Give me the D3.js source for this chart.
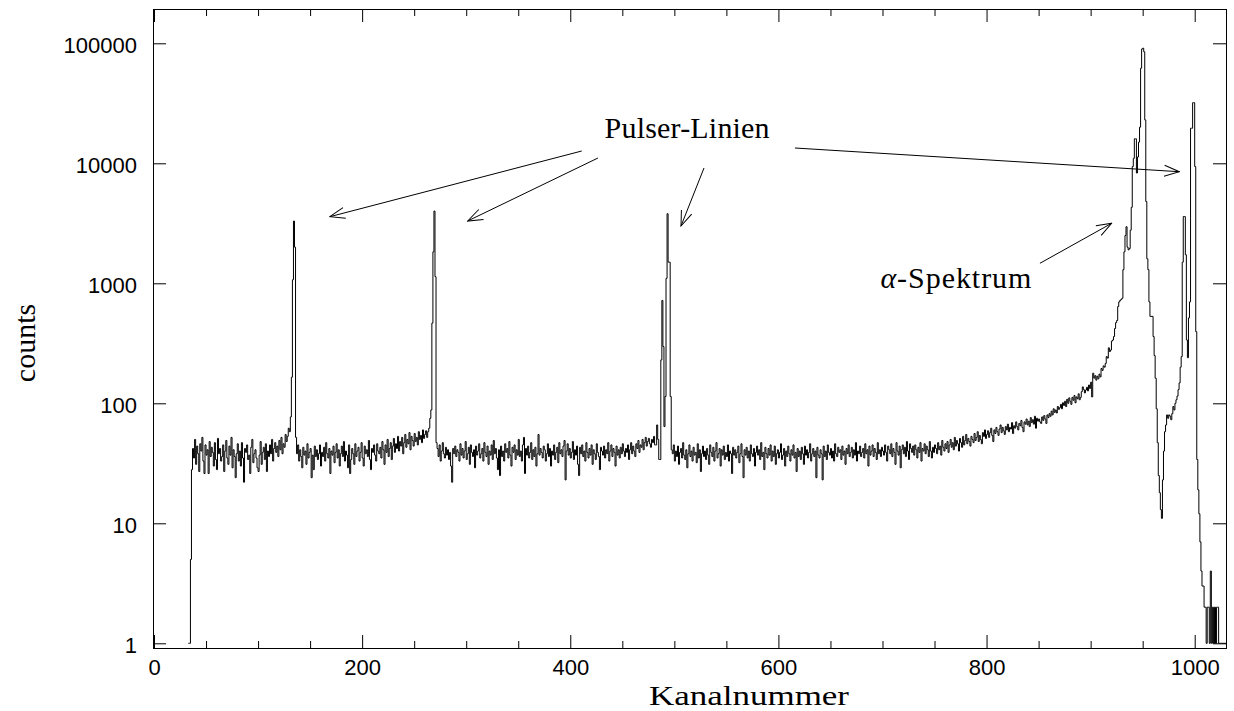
<!DOCTYPE html>
<html>
<head>
<meta charset="utf-8">
<script src="https://cdn.jsdelivr.net/npm/d3@7"></script>
<style>
  body { margin: 0; background: #fff; }
  .tick text { font-family: "Liberation Sans", Arial, sans-serif; font-size: 22px; fill: #000; }
  .label { font-family: "Liberation Serif", "Times New Roman", serif; fill: #000; }
</style>
</head>
<body>
<div id="chart"></div>
<script>
var width = 1234
var height = 711

// counts per channel, first entry is channel 30 (10 channels per row)
var firstChannel = 30
var counts = [
  0,0,0,1,1,5,28,42,35,50,
  31,44,38,27,46,40,52,33,26,45,
  37,41,26,48,36,43,39,30,47,34,
  28,51,38,42,33,36,45,27,40,49,
  35,31,44,37,52,29,41,36,24,38,
  46,33,40,30,47,35,22,42,39,45,
  34,37,26,43,50,32,38,41,35,29,
  27,37,48,31,39,43,34,46,27,40,
  36,45,38,50,33,42,47,39,44,36,
  49,41,52,38,46,43,55,48,53,62,
  58,77,165,1070,3300,2000,52,38,45,33,
  41,36,29,43,37,40,31,46,35,39,
  42,24,37,28,44,36,41,34,38,45,
  30,39,36,43,33,47,38,35,42,26,
  40,37,44,32,39,46,35,41,30,38,
  44,36,48,33,40,37,29,45,26,34,
  42,38,31,46,36,40,43,33,39,47,
  35,30,44,38,41,36,49,34,28,42,
  39,45,37,33,46,40,38,43,35,48,
  41,31,45,39,50,36,42,47,34,44,
  51,39,46,42,53,40,48,44,52,38,
  47,55,43,50,46,57,41,53,49,44,
  56,48,52,45,58,50,54,47,60,51,
  55,59,52,58,62,75,88,466,1830,4000,
  1135,47,42,36,45,33,40,47,38,35,
  43,37,41,34,39,30,22,42,38,44,
  36,41,39,33,46,37,42,35,40,48,
  34,38,43,31,45,39,36,41,29,44,
  37,40,46,35,38,42,33,47,39,36,
  44,31,40,37,45,34,49,38,42,35,
  28,41,25,44,36,40,33,46,39,42,
  35,48,37,30,43,39,45,34,41,37,
  50,36,40,33,45,52,26,42,37,44,
  35,39,47,34,41,36,43,30,38,55,
  37,42,39,35,44,41,33,38,46,36,
  42,30,40,37,45,34,39,43,32,47,
  38,41,36,44,49,23,40,46,37,42,
  35,39,48,34,41,37,44,31,25,43,
  38,45,36,40,33,47,39,35,42,37,
  45,31,41,38,34,46,39,36,28,43,
  40,37,44,35,41,38,47,33,40,45,
  36,42,39,30,44,37,41,35,43,38,
  46,40,36,42,39,45,34,41,47,38,
  44,40,36,46,42,49,39,45,43,50,
  41,47,52,44,48,51,46,43,50,47,
  53,45,45,66,50,34,34,230,720,297,
  64,114,1100,3800,1500,1500,114,41,38,45,
  33,40,36,44,31,39,42,35,47,37,
  34,41,29,38,45,36,40,33,43,37,
  39,32,46,35,41,27,38,44,36,40,
  34,42,37,31,45,39,36,43,33,40,
  47,35,38,42,30,41,37,44,34,39,
  36,45,33,40,38,26,43,37,41,35,
  39,44,32,38,46,36,24,41,37,43,
  35,40,33,45,38,36,42,30,39,44,
  37,41,34,47,36,39,28,43,38,35,
  42,37,45,33,40,36,44,31,38,41,
  35,39,46,34,37,42,30,40,36,44,
  38,33,41,37,45,35,39,27,42,36,
  40,34,43,38,31,44,37,41,35,39,
  46,33,38,42,36,40,24,43,37,35,
  41,38,23,44,36,40,34,45,39,37,
  42,35,40,33,46,38,36,43,39,41,
  34,44,37,40,31,42,38,45,36,39,
  43,35,41,37,47,33,40,38,44,36,
  39,42,35,46,38,41,30,44,37,40,
  45,36,42,39,34,47,38,41,36,43,
  40,37,45,39,33,44,41,38,46,36,
  42,39,31,47,40,37,44,29,41,45,
  38,43,36,48,40,34,46,42,39,44,
  37,45,41,35,43,39,47,33,42,40,
  46,38,44,41,36,48,40,35,43,39,
  45,42,38,47,41,44,37,49,43,40,
  46,42,48,39,45,50,43,47,41,52,
  44,49,46,40,51,47,43,53,45,49,
  55,46,51,48,44,53,50,47,56,49,
  52,58,48,54,50,46,57,53,60,51,
  55,59,52,57,62,54,48,60,56,63,
  58,54,61,66,57,63,59,55,64,60,
  67,58,63,61,69,56,65,62,70,64,
  60,68,65,72,63,58,70,67,74,66,
  71,64,76,69,73,67,78,62,75,71,
  74,70,68,77,72,79,74,68,80,76,
  82,78,86,80,90,84,88,83,94,89,
  92,98,90,101,96,104,94,108,100,111,
  104,98,112,106,116,101,113,109,120,107,
  112,125,137,130,122,129,136,127,142,133,
  150,113,178,162,170,156,168,160,175,166,
  195,188,205,200,215,245,238,290,270,278,
  330,337,360,420,470,490,640,700,720,735,
  750,1300,1830,2500,2960,2000,1900,1950,2770,4300,
  9400,11000,16000,16000,8300,11300,15000,20000,62000,89700,
  91000,85000,23000,4800,1600,1300,700,530,530,530,
  360,250,162,90,47,25,18,13,11,23,
  40,58,66,80,75,80,78,73,82,94,
  88,100,107,115,130,148,200,245,1500,3600,
  3600,1730,337,240,515,700,19600,19600,32000,32000,
  9400,395,34,19,12,7,4,3,3,2,
  2,1,2,2,1,4,1,2,1,2,
  1,2,2,1,1,1,1,1,1,1
]

var xTicks = [0, 200, 400, 600, 800, 1000]
var xMinorTicks = [50, 100, 150, 250, 300, 350, 450, 500, 550, 650, 700, 750, 850, 900, 950]
var yTicks = [1, 10, 100, 1000, 10000, 100000]
var yTickLabels = ['1', '10', '100', '1000', '10000', '100000']

var xLabel = 'Kanalnummer'
var yLabel = 'counts'

// annotation text and arrows, in data units (channel, counts)
var pulserText = { text: 'Pulser-Linien', ch: 433, count: 16250 }
var alphaText = { ch: 698, count: 914 }
var pulserArrows = [
  { from: [411, 12660], to: [169, 3590] },
  { from: [426.6, 11070], to: [301.4, 3305] },
  { from: [528.5, 9140], to: [506.4, 3002] },
  { from: [615.9, 13410], to: [985.2, 8510] }
]
var alphaArrow = { from: [851.3, 1468], to: [920.2, 3162] }

var frame = { left: 153.5, top: 9.5, right: 1226.5, bottom: 648.5 }

var svg = d3.select('#chart')
  .append('svg')
  .attr('width', width)
  .attr('height', height)

// Add scales
var xScale = d3.scaleLinear()
  .domain([0, 1000])
  .range([154, 1194.7])

var yScale = d3.scaleLog()
  .domain([1, 100000])
  .range([643.3, 43.3])

// Arrow head
svg.append('defs')
  .append('marker')
  .attr('id', 'head')
  .attr('markerUnits', 'userSpaceOnUse')
  .attr('viewBox', '-17 -8 18 16')
  .attr('markerWidth', 18)
  .attr('markerHeight', 16)
  .attr('refX', 0)
  .attr('refY', 0)
  .attr('orient', 'auto')
  .append('path')
  .attr('d', 'M-15,-5.5L0,0L-15,5.5')
  .attr('fill', 'none')
  .attr('stroke', '#000')
  .attr('stroke-width', 1)

svg.select('defs')
  .append('clipPath')
  .attr('id', 'plot-clip')
  .append('rect')
  .attr('x', frame.left)
  .attr('y', frame.top)
  .attr('width', frame.right - frame.left)
  .attr('height', frame.bottom - frame.top)

// Render spectrum
var spectrum = counts.map(function(c, i) {
  return { ch: firstChannel + i, count: c }
})
spectrum.push({ ch: firstChannel + counts.length, count: counts[counts.length - 1] })

var line = d3.line()
  .defined(d => d.count > 0)
  .x(d => xScale(d.ch))
  .y(d => yScale(d.count))
  .curve(d3.curveStepAfter)

svg.append('path')
  .datum(spectrum)
  .attr('class', 'spectrum')
  .attr('clip-path', 'url(#plot-clip)')
  .attr('d', line)
  .attr('fill', 'none')
  .attr('stroke', '#000')
  .attr('stroke-width', 1)

// Render axes (ticks point inward)
function cleanAxis(g) {
  g.select('.domain').remove()
  g.selectAll('.tick line').attr('stroke', '#000')
}

svg.append('g')
  .attr('transform', `translate(0,${frame.bottom - 0.5})`)
  .call(d3.axisBottom(xScale).tickValues(xTicks).tickSize(-13).tickPadding(11).tickFormat(d3.format('d')))
  .call(cleanAxis)

svg.append('g')
  .attr('transform', `translate(0,${frame.bottom - 0.5})`)
  .call(d3.axisBottom(xScale).tickValues(xMinorTicks).tickSize(-7).tickFormat(''))
  .call(cleanAxis)

svg.append('g')
  .attr('transform', `translate(0,${frame.top - 0.5})`)
  .call(d3.axisTop(xScale).tickValues(xTicks).tickSize(-13).tickFormat(''))
  .call(cleanAxis)

svg.append('g')
  .attr('transform', `translate(0,${frame.top - 0.5})`)
  .call(d3.axisTop(xScale).tickValues(xMinorTicks).tickSize(-7).tickFormat(''))
  .call(cleanAxis)

svg.append('g')
  .attr('transform', `translate(${frame.left - 0.5},0)`)
  .call(d3.axisLeft(yScale).tickValues(yTicks).tickSize(-13).tickPadding(16)
    .tickFormat((d, i) => yTickLabels[i]))
  .call(cleanAxis)
  .selectAll('text')
  .attr('dy', '0.4em')

svg.append('g')
  .attr('transform', `translate(${frame.right - 0.5},0)`)
  .call(d3.axisRight(yScale).tickValues(yTicks).tickSize(-13).tickFormat(''))
  .call(cleanAxis)

// remove d3 default font settings so css applies
svg.selectAll('g').attr('font-family', null).attr('font-size', null)

// Frame
svg.append('rect')
  .attr('x', frame.left)
  .attr('y', frame.top)
  .attr('width', frame.right - frame.left)
  .attr('height', frame.bottom - frame.top)
  .attr('fill', 'none')
  .attr('stroke', '#000')
  .attr('stroke-width', 1)

// Axis labels
svg.append('text')
  .attr('class', 'label')
  .attr('x', 749)
  .attr('y', 704.5)
  .attr('text-anchor', 'middle')
  .style('font-size', '27px')
  .attr('textLength', 200)
  .attr('lengthAdjust', 'spacingAndGlyphs')
  .text(xLabel)

svg.append('text')
  .attr('class', 'label')
  .attr('transform', 'translate(35,343) rotate(-90)')
  .attr('text-anchor', 'middle')
  .style('font-size', '30px')
  .text(yLabel)

// Annotations
svg.append('text')
  .attr('class', 'label')
  .attr('x', xScale(pulserText.ch))
  .attr('y', yScale(pulserText.count))
  .style('font-size', '30px')
  .attr('textLength', 165)
  .text(pulserText.text)

var alpha = svg.append('text')
  .attr('class', 'label')
  .attr('x', xScale(alphaText.ch))
  .attr('y', yScale(alphaText.count))
  .style('font-size', '30px')
  .attr('textLength', 151)

alpha.append('tspan')
  .style('font-style', 'italic')
  .text('α')
alpha.append('tspan')
  .text('-Spektrum')

svg.selectAll('.arrow')
  .data(pulserArrows.concat([alphaArrow]))
  .enter()
  .append('line')
  .attr('class', 'arrow')
  .attr('x1', d => xScale(d.from[0]))
  .attr('y1', d => yScale(d.from[1]))
  .attr('x2', d => xScale(d.to[0]))
  .attr('y2', d => yScale(d.to[1]))
  .attr('stroke', '#000')
  .attr('stroke-width', 1)
  .attr('marker-end', 'url(#head)')
</script>
</body>
</html>
